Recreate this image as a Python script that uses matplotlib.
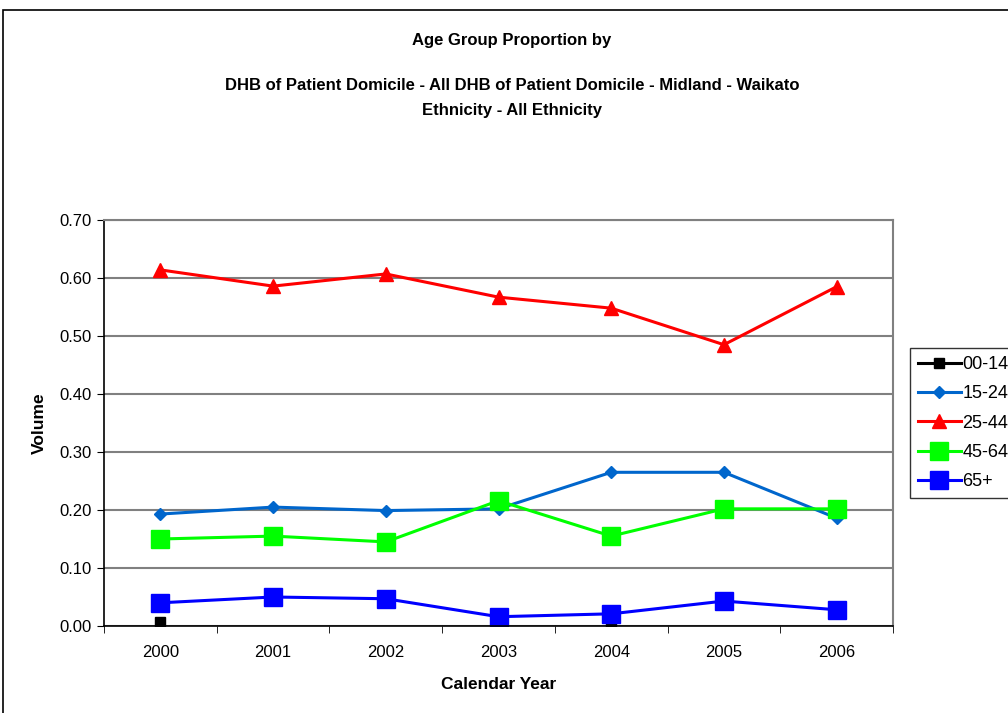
import numpy as np
import matplotlib.pyplot as plt
from matplotlib.patches import Rectangle

plt.rcParams['font.family'] = ['Liberation Sans', 'DejaVu Sans']

years = ['2000', '2001', '2002', '2003', '2004', '2005', '2006']
nan = np.nan
age_00_14 = [0.007, nan, nan, nan, 0.005, nan, nan]
age_15_24 = [0.193, 0.205, 0.199, 0.202, 0.265, 0.265, 0.186]
age_25_44 = [0.614, 0.586, 0.607, 0.567, 0.548, 0.485, 0.585]
age_45_64 = [0.150, 0.155, 0.145, 0.216, 0.155, 0.202, 0.202]
age_65_up = [0.040, 0.050, 0.047, 0.016, 0.021, 0.043, 0.028]

fig = plt.figure(figsize=(10.08, 7.13), dpi=100)
ax = fig.add_axes([104 / 1008, 87 / 713, 789 / 1008, 406 / 713])

x = np.arange(len(years))
ax.plot(x, age_00_14, color='black', lw=2.2, marker='s', ms=6.5, label='00-14')
ax.plot(x, age_15_24, color='#0066CC', lw=2.2, marker='D', ms=6, label='15-24')
ax.plot(x, age_25_44, color='#FF0000', lw=2.2, marker='^', ms=10, label='25-44')
ax.plot(x, age_45_64, color='#00FF00', lw=2.2, marker='s', ms=13, label='45-64')
ax.plot(x, age_65_up, color='#0000FF', lw=2.2, marker='s', ms=13, label='65+')

ax.set_xlim(-0.5, len(years) - 0.5)
ax.set_ylim(0, 0.70)
ax.set_yticks(np.arange(0, 0.71, 0.1))
ax.set_yticklabels(['%.2f' % v for v in np.arange(0, 0.71, 0.1)])
ax.set_xticks(x)
ax.set_xticklabels(years)
ax.set_xticks(np.arange(-0.5, len(years), 1), minor=True)
ax.tick_params(axis='x', which='major', length=0, pad=14, labelsize=12)
ax.tick_params(axis='x', which='minor', length=5, direction='out', color='black')
ax.tick_params(axis='y', length=5, direction='out', labelsize=12, pad=4)
ax.grid(axis='y', color='#808080', lw=1.5)
ax.set_axisbelow(True)
for s in ['top', 'right']:
    ax.spines[s].set_color('#808080')
    ax.spines[s].set_linewidth(1.5)
for s in ['left', 'bottom']:
    ax.spines[s].set_color('black')
    ax.spines[s].set_linewidth(1.2)

ax.set_xlabel('Calendar Year', fontsize=12.5, fontweight='bold', labelpad=12)
ax.set_ylabel('Volume', fontsize=12.5, fontweight='bold', labelpad=9)

fig.text(512 / 1008, 1 - 40 / 713, 'Age Group Proportion by', ha='center', va='center',
         fontsize=12, fontweight='bold')
fig.text(512 / 1008, 1 - 86 / 713,
         'DHB of Patient Domicile - All DHB of Patient Domicile - Midland - Waikato',
         ha='center', va='center', fontsize=12, fontweight='bold')
fig.text(512 / 1008, 1 - 110 / 713, 'Ethnicity - All Ethnicity', ha='center', va='center',
         fontsize=12, fontweight='bold')

leg = fig.legend(loc='upper left', bbox_to_anchor=(910 / 1008, 1 - 348 / 713),
                 frameon=True, fancybox=False, edgecolor='black', fontsize=13,
                 handlelength=2.35, handletextpad=0.1, labelspacing=0.68,
                 borderpad=0.45, borderaxespad=0)
leg.get_frame().set_linewidth(1.0)

fig.patches.append(Rectangle((3 / 1008, -0.1), 1.2, 1 - 10 / 713 + 0.1,
                             transform=fig.transFigure, fill=False,
                             edgecolor='black', lw=1.2))

fig.savefig('out.png', dpi=100)
